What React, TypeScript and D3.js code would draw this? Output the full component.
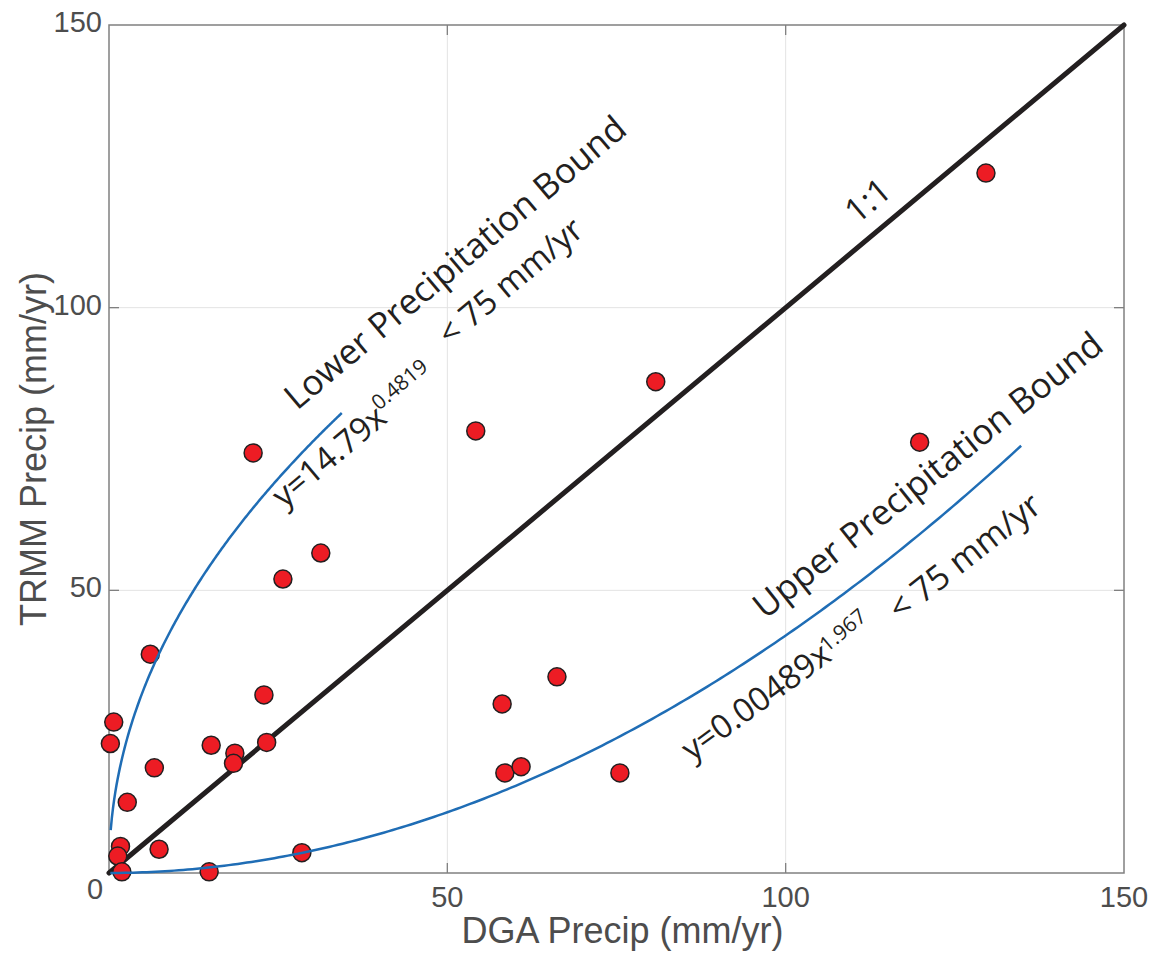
import React from "react";
import * as d3 from "d3";

// DGA precip (x) vs TRMM precip (y), mm/yr
const dgaPrecip = [129.6, 80.8, 119.8, 54.2, 21.3, 31.3, 25.7, 6.1, 66.2, 58.1, 22.9, 0.7, 0.2, 15.1, 18.6, 18.4, 23.3, 6.7, 58.5, 60.9, 75.5, 2.7, 7.4, 1.7, 1.3, 28.5, 14.8, 1.9];
const trmmPrecip = [123.8, 86.9, 76.2, 78.2, 74.3, 56.6, 52.0, 38.7, 34.7, 29.9, 31.5, 26.7, 22.9, 22.6, 21.2, 19.4, 23.1, 18.6, 17.7, 18.8, 17.7, 12.5, 4.2, 4.7, 3.0, 3.6, 0.2, 0.2];

const xTicks = [50, 100, 150];
const yTicks = [50, 100, 150];
const gridTicks = [50, 100];

// fitted bounds: y = a * x^b
const lowerFit = { a: 14.79, b: 0.4819, xMin: 0.25, xMax: 34.4 };
const upperFit = { a: 0.00489, b: 1.967, xMin: 0.2, xMax: 134.8 };

const W = 1151;
const H = 953;

export default function App() {
  const x = d3.scaleLinear().domain([0, 150]).range([109, 1124]);
  const y = d3.scaleLinear().domain([0, 150]).range([873, 25]);

  const fitPath = (f: { a: number; b: number; xMin: number; xMax: number }) => {
    const n = 200;
    const pts: [number, number][] = d3.range(n + 1).map((i) => {
      const xv = f.xMin + ((f.xMax - f.xMin) * i) / n;
      return [xv, f.a * Math.pow(xv, f.b)];
    });
    return d3
      .line<[number, number]>()
      .x((d) => x(d[0]))
      .y((d) => y(d[1]))(pts) as string;
  };

  const axisColor = "#808080";
  const labelColor = "#4d4d4d";
  const annFont = "'Open Sans', sans-serif";
  const annColor = "#231f20";

  const [x0, x1] = x.range();
  const [y0, y1] = y.range();

  const ann = (tx: number, ty: number, angle: number, size: number, text: string) => (
    <text transform={`translate(${tx},${ty}) rotate(${angle})`} fontSize={size}>
      {text}
    </text>
  );

  return (
    <svg
      width={W}
      height={H}
      style={{ position: "absolute", left: 0, top: 0, background: "#fff" }}
      fontFamily="'Liberation Sans', Arial, sans-serif"
    >
      <rect x={0} y={0} width={W} height={H} fill="#fff" />
      {/* grid */}
      {gridTicks.map((t) => (
        <g key={"g" + t}>
          <line x1={x(t)} x2={x(t)} y1={y0} y2={y1} stroke="#e3e3e3" strokeWidth={1} />
          <line x1={x0} x2={x1} y1={y(t)} y2={y(t)} stroke="#e3e3e3" strokeWidth={1} />
        </g>
      ))}
      {/* ticks inward on all sides */}
      {gridTicks.map((t) => (
        <g key={"t" + t} stroke={axisColor} strokeWidth={1.3}>
          <line x1={x(t)} x2={x(t)} y1={y0} y2={y0 - 10} />
          <line x1={x(t)} x2={x(t)} y1={y1} y2={y1 + 10} />
          <line x1={x0} x2={x0 + 10} y1={y(t)} y2={y(t)} />
          <line x1={x1} x2={x1 - 10} y1={y(t)} y2={y(t)} />
        </g>
      ))}
      {/* box */}
      <rect x={x0} y={y1} width={x1 - x0} height={y0 - y1} fill="none" stroke={axisColor} strokeWidth={1.5} />

      {/* 1:1 line */}
      <line x1={x(0)} y1={y(0)} x2={x(150)} y2={y(150)} stroke="#231f20" strokeWidth={5} strokeLinecap="round" />

      {/* points */}
      {dgaPrecip.map((d, i) => (
        <circle key={i} cx={x(d)} cy={y(trmmPrecip[i])} r={9} fill="#ed1c24" stroke="#231f20" strokeWidth={1.5} />
      ))}

      {/* fitted bounds */}
      <path d={fitPath(lowerFit)} fill="none" stroke="#1f6db5" strokeWidth={2.5} />
      <path d={fitPath(upperFit)} fill="none" stroke="#1f6db5" strokeWidth={2.5} />

      {/* tick labels */}
      {xTicks.map((t) => (
        <text key={"xl" + t} x={x(t)} y={907} textAnchor="middle" fontSize={29} fill={labelColor}>
          {t}
        </text>
      ))}
      {yTicks.map((t) => (
        <text key={"yl" + t} x={102} y={y(t) + 7} textAnchor="end" fontSize={29} fill={labelColor}>
          {t}
        </text>
      ))}
      <text x={95} y={899} textAnchor="middle" fontSize={29} fill={labelColor}>0</text>

      {/* axis labels */}
      <text x={(x0 + x1) / 2 + 6} y={943} textAnchor="middle" fontSize={36} fill={labelColor}>
        DGA Precip (mm/yr)
      </text>
      <text
        transform={`translate(46,${(y0 + y1) / 2}) rotate(-90)`}
        textAnchor="middle"
        fontSize={36}
        fill={labelColor}
      >
        TRMM Precip (mm/yr)
      </text>

      {/* annotations */}
      <g fontFamily={annFont} fill={annColor}>
        {ann(857, 225, -40, 34, "1:1")}

        {ann(297, 411, -40, 35, "Lower Precipitation Bound")}
        {ann(284, 509, -40, 33, "y=14.79x")}
        {ann(379, 411, -40, 21, "0.4819")}
        {ann(450, 347, -40, 33, "< 75 mm/yr")}

        {ann(765, 620, -38.5, 35, "Upper Precipitation Bound")}
        {ann(692, 762, -36, 33, "y=0.00489x")}
        {ann(827, 653, -40, 21, "1.967")}
        {ann(900, 622, -38, 34, "< 75 mm/yr")}
      </g>
    </svg>
  );
}
